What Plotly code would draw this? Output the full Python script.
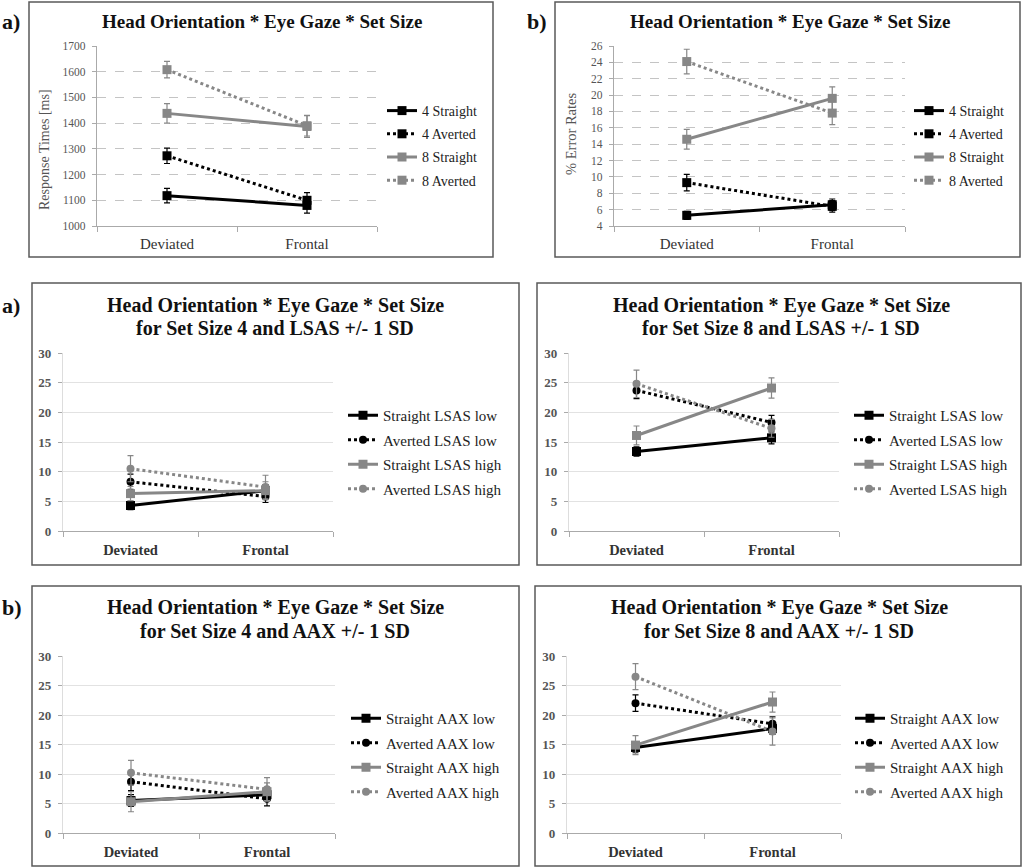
import plotly.graph_objects as go

W, H = 1024, 868

categories = ["Deviated", "Frontal"]

# ---- Panel a) top: response times ----
rt_names = ["4 Straight", "4 Averted", "8 Straight", "8 Averted"]
rt_values = [[1118, 1080], [1273, 1100], [1438, 1387], [1608, 1390]]
rt_errors = [[28, 30], [30, 30], [38, 42], [32, 40]]

# ---- Panel b) top: error rates ----
er_names = ["4 Straight", "4 Averted", "8 Straight", "8 Averted"]
er_values = [[5.3, 6.6], [9.3, 6.4], [14.6, 19.6], [24.1, 17.8]]
er_errors = [[0.5, 0.7], [1.0, 0.7], [1.2, 1.4], [1.5, 1.4]]

# ---- Middle: LSAS ----
lsas_names = ["Straight LSAS low", "Averted LSAS low", "Straight LSAS high", "Averted LSAS high"]
lsas4_values = [[4.3, 6.8], [8.3, 5.8], [6.3, 6.8], [10.5, 7.4]]
lsas4_errors = [[0.7, 1.0], [1.3, 1.0], [1.2, 1.5], [2.2, 2.0]]
lsas8_values = [[13.4, 15.7], [23.7, 18.3], [16.1, 24.1], [24.8, 17.3]]
lsas8_errors = [[0.8, 1.0], [1.4, 1.2], [1.6, 1.7], [2.3, 1.5]]

# ---- Bottom: AAX ----
aax_names = ["Straight AAX low", "Averted AAX low", "Straight AAX high", "Averted AAX high"]
aax4_values = [[5.5, 6.5], [8.7, 5.8], [5.3, 7.0], [10.2, 7.4]]
aax4_errors = [[1.0, 1.0], [1.5, 1.2], [1.7, 1.5], [2.1, 2.0]]
aax8_values = [[14.5, 17.7], [22.0, 18.5], [14.9, 22.2], [26.5, 17.2]]
aax8_errors = [[0.9, 1.0], [1.4, 1.2], [1.6, 1.7], [2.2, 2.3]]

SERIF = "Liberation Serif"
BLACK = "#000000"
GRAY = "#878787"
styles_top = [(BLACK, "solid", "square"), (BLACK, "dot", "square"),
              (GRAY, "solid", "square"), (GRAY, "dot", "square")]
styles_low = [(BLACK, "solid", "square"), (BLACK, "dot", "circle"),
              (GRAY, "solid", "square"), (GRAY, "dot", "circle")]

def px_x(v):
    return v / W

def px_y(v):
    return 1 - v / H

panels = [
    dict(names=rt_names, vals=rt_values, errs=rt_errors, st=styles_top,
         xd=(97, 377), yd=(46, 226), yr=(1000, 1700), dt=100, dash=True, leg=(382, 95), top=True),
    dict(names=er_names, vals=er_values, errs=er_errors, st=styles_top,
         xd=(614, 905), yd=(46, 226), yr=(4, 26), dt=2, dash=True, leg=(909, 95), top=True),
    dict(names=lsas_names, vals=lsas4_values, errs=lsas4_errors, st=styles_low,
         xd=(63, 333), yd=(353, 531), yr=(0, 30), dt=5, dash=False, leg=(343, 399), top=False),
    dict(names=lsas_names, vals=lsas8_values, errs=lsas8_errors, st=styles_low,
         xd=(569, 839), yd=(353, 531), yr=(0, 30), dt=5, dash=False, leg=(849, 399), top=False),
    dict(names=aax_names, vals=aax4_values, errs=aax4_errors, st=styles_low,
         xd=(63, 335), yd=(656, 833), yr=(0, 30), dt=5, dash=False, leg=(346, 702), top=False),
    dict(names=aax_names, vals=aax8_values, errs=aax8_errors, st=styles_low,
         xd=(567, 841), yd=(656, 833), yr=(0, 30), dt=5, dash=False, leg=(850, 702), top=False),
]

fig = go.Figure()
layout = dict(width=W, height=H, autosize=False, margin=dict(l=0, r=0, t=0, b=0, autoexpand=False),
              paper_bgcolor="white", plot_bgcolor="white", showlegend=True,
              font=dict(family=SERIF, color="#222222"))

for i, p in enumerate(panels):
    k = "" if i == 0 else str(i + 1)
    leg = "legend" if i == 0 else f"legend{i + 1}"
    for j, name in enumerate(p["names"]):
        color, dash, sym = p["st"][j]
        fig.add_trace(go.Scatter(
            x=categories, y=p["vals"][j], name=name, mode="lines+markers",
            xaxis="x" + k, yaxis="y" + k, legend=leg, legendgroup=f"g{i}_{j}",
            line=dict(color=color, width=3, dash=dash),
            marker=dict(color=color, symbol=sym, size=9 if sym == "square" else 8),
            error_y=dict(type="data", array=p["errs"][j], color=color, thickness=1.2, width=3),
        ))
    wt = "normal" if p["top"] else "bold"
    tickfont_x = dict(family=SERIF, size=15 if p["top"] else 14.5, color="#333333", weight=wt)
    tickfont_y = dict(family=SERIF, size=11.5 if p["top"] else 13, color="#555555", weight=wt)
    layout["xaxis" + k] = dict(
        domain=[px_x(p["xd"][0]), px_x(p["xd"][1])], anchor="y" + k,
        type="category", range=[-0.5, 1.5], tickson="boundaries",
        ticks="outside", ticklen=5, tickcolor="#aaaaaa", showline=True,
        linecolor="#aaaaaa", linewidth=1.2, showgrid=False, tickfont=tickfont_x,
        ticklabelstandoff=4 if p["top"] else 5, automargin=False, fixedrange=True)
    layout["yaxis" + k] = dict(
        domain=[px_y(p["yd"][1]), px_y(p["yd"][0])], anchor="x" + k,
        range=list(p["yr"]), dtick=p["dt"], tick0=p["yr"][0],
        ticks="outside", ticklen=4, tickcolor="#aaaaaa", showline=True,
        linecolor="#aaaaaa" if p["top"] else "#dddddd", linewidth=1.2,
        showgrid=True, gridcolor="#c4c4c4" if p["dash"] else "#e2e2e2",
        griddash="dash" if p["dash"] else "solid", zeroline=False,
        tickfont=tickfont_y, ticklabelstandoff=4, automargin=False, fixedrange=True)
    layout[leg] = dict(
        x=px_x(p["leg"][0]), y=px_y(p["leg"][1]), xanchor="left", yanchor="top",
        font=dict(family=SERIF, size=14 if p["top"] else 15, color="#222222"),
        bgcolor="rgba(0,0,0,0)", tracegroupgap=2, itemwidth=30)

fig.update_layout(**layout)

boxes = [(29, 2, 493, 257), (555, 2, 1020, 257), (32, 283, 519, 565),
         (537, 283, 1021, 565), (32, 586, 519, 866), (535, 586, 1021, 866)]
for (x0, y0, x1, y1) in boxes:
    fig.add_shape(type="rect", xref="paper", yref="paper",
                  x0=px_x(x0), x1=px_x(x1), y0=px_y(y1), y1=px_y(y0),
                  line=dict(color="#5a5a5a", width=1.5), fillcolor="rgba(0,0,0,0)")

title_main = "Head Orientation * Eye Gaze * Set Size"
titles = [
    (262, 22, title_main, 19), (790, 22, title_main, 19),
    (275, 305, title_main, 20), (275, 328, "for Set Size 4 and LSAS +/- 1 SD", 20),
    (781, 305, title_main, 20), (781, 328, "for Set Size 8 and LSAS +/- 1 SD", 20),
    (275, 607, title_main, 20), (275, 631, "for Set Size 4 and AAX +/- 1 SD", 20),
    (779, 607, title_main, 20), (779, 631, "for Set Size 8 and AAX +/- 1 SD", 20),
]
for (x, y, t, s) in titles:
    fig.add_annotation(xref="paper", yref="paper", x=px_x(x), y=px_y(y),
                       text=f"<b>{t}</b>", showarrow=False, xanchor="center", yanchor="middle",
                       font=dict(family=SERIF, size=s, color="#111111"))

labels = [(0, 22, "a)"), (525, 22, "b)"), (0, 305, "a)"), (0, 607, "b)")]
for (x, y, t) in labels:
    fig.add_annotation(xref="paper", yref="paper", x=px_x(x), y=px_y(y),
                       text=f"<b>{t}</b>", showarrow=False, xanchor="left", yanchor="middle",
                       font=dict(family=SERIF, size=22, color="#111111"))

ytitles = [(45, 150, "Response Times [ms]", 14), (571, 134, "% Error Rates", 14.5)]
for (x, y, t, s) in ytitles:
    fig.add_annotation(xref="paper", yref="paper", x=px_x(x), y=px_y(y),
                       text=t, showarrow=False, textangle=-90, xanchor="center", yanchor="middle",
                       font=dict(family=SERIF, size=s, color="#555555"))

fig.write_html("out.html",
               config={"displayModeBar": False, "responsive": False},
               post_script="document.body.style.margin='0';document.body.style.overflow='hidden';")
